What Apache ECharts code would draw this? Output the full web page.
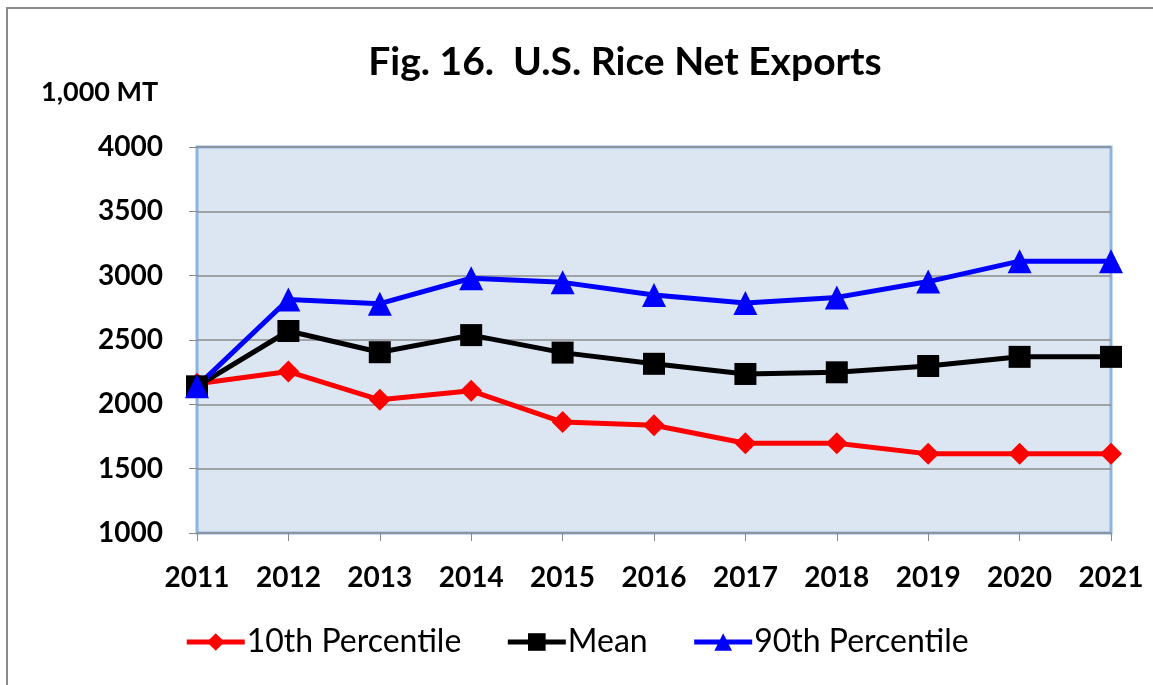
<!DOCTYPE html>
<html>
<head>
<meta charset="utf-8">
<script src="https://cdn.jsdelivr.net/npm/echarts@6/dist/echarts.min.js"></script>
<style>
  html, body { margin: 0; padding: 0; background: #fff; }
  #chart { width: 1153px; height: 685px; }
</style>
</head>
<body>
<div id="chart"></div>
<script>
const years = ['2011', '2012', '2013', '2014', '2015', '2016', '2017', '2018', '2019', '2020', '2021'];
const p10 = [2160, 2255, 2035, 2105, 1862, 1838, 1698, 1698, 1615, 1615, 1615];
const mean = [2140, 2570, 2405, 2538, 2402, 2315, 2236, 2249, 2298, 2369, 2369];
const p90 = [2140, 2815, 2782, 2980, 2948, 2850, 2787, 2831, 2954, 3113, 3113];

const font = 'Lato, "Open Sans", sans-serif';

function makeSeries(name, data, color, symbol, size) {
    return {
        name: name,
        type: 'line',
        data: data,
        symbol: symbol,
        symbolSize: size,
        lineStyle: { color: color, width: 5 },
        itemStyle: { color: color },
        emphasis: { disabled: true },
        animation: false
    };
}

const chart = echarts.init(document.getElementById('chart'));
chart.setOption({
    animation: false,
    title: [{
        text: 'Fig. 16.  U.S. Rice Net Exports',
        left: 620,
        top: 38,
        textAlign: 'center',
        textStyle: { fontFamily: font, fontWeight: 'bold', fontSize: 39, color: '#000' }
    }, {
        text: '1,000 MT',
        left: 36,
        top: 74,
        textStyle: { fontFamily: font, fontWeight: 'bold', fontSize: 27, color: '#000' }
    }],
    graphic: [{
        type: 'rect',
        shape: { x: 7, y: 8, width: 1160, height: 700 },
        style: { fill: 'none', stroke: '#8c8c8c', lineWidth: 2 },
        silent: true
    }],
    grid: {
        left: 197,
        right: 42,
        top: 147,
        bottom: 152,
        show: true,
        backgroundColor: '#dce6f2',
        borderColor: '#8db3e2',
        borderWidth: 3
    },
    legend: {
        bottom: 22,
        left: 'center',
        itemWidth: 58,
        itemHeight: 22,
        itemGap: 44,
        lineStyle: { width: 5 },
        textStyle: { fontFamily: font, fontSize: 32, color: '#000', padding: [0, 0, 0, -3] },
        data: ['10th Percentile', 'Mean', '90th Percentile']
    },
    xAxis: {
        type: 'category',
        data: years,
        boundaryGap: false,
        axisLine: { show: false },
        axisTick: { show: true, length: 8, lineStyle: { color: '#888', width: 1 } },
        axisLabel: { fontFamily: font, fontWeight: 'bold', fontSize: 28, color: '#000', margin: 31 },
        splitLine: { show: false }
    },
    yAxis: {
        type: 'value',
        min: 1000,
        max: 4000,
        interval: 500,
        axisLine: { show: false },
        axisTick: { show: true, length: 8, lineStyle: { color: '#888', width: 1 } },
        axisLabel: {
            fontFamily: font, fontWeight: 'bold', fontSize: 28, color: '#000', margin: 34,
            formatter: function (v) { return String(v); }
        },
        splitLine: { lineStyle: { color: '#8c8c8c', width: 1.5 } }
    },
    series: [
        makeSeries('10th Percentile', p10, '#ff0000', 'diamond', 22),
        makeSeries('Mean', mean, '#000000', 'rect', 22),
        makeSeries('90th Percentile', p90, '#0000ff', 'triangle', 24)
    ]
});
</script>
</body>
</html>
